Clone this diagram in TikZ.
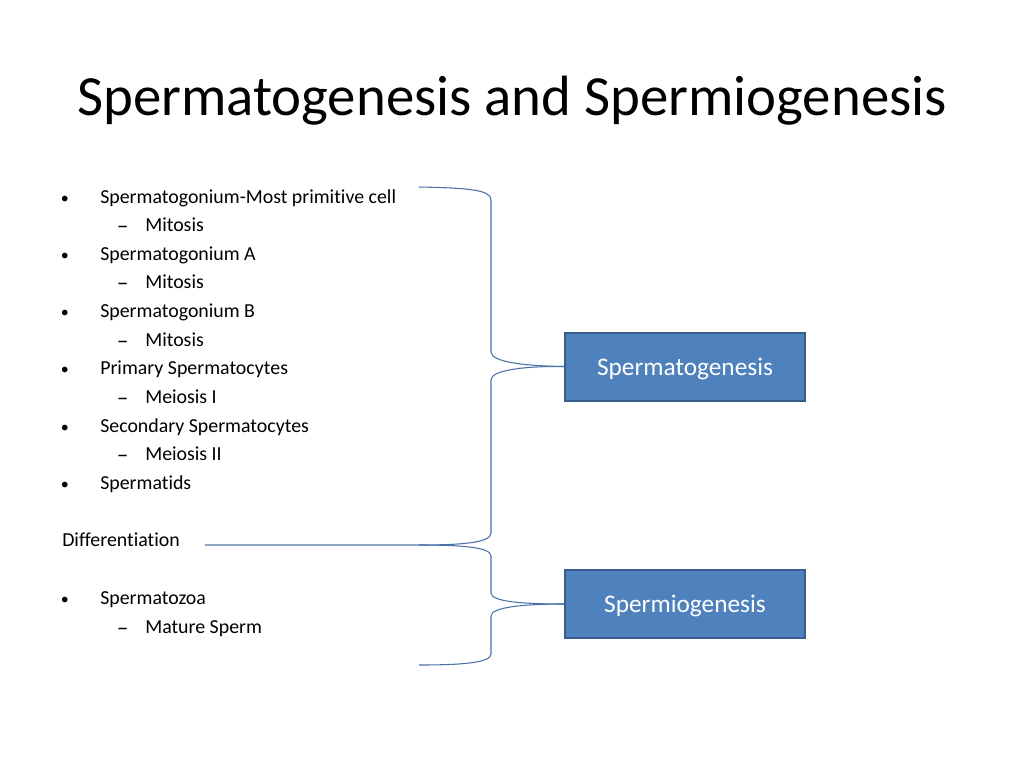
\documentclass[tikz,border=0pt]{standalone}
\usepackage{fontspec}
\setmainfont{Carlito}[RawFeature=-liga]
\begin{document}
\begin{tikzpicture}[x=0.75pt,y=-0.75pt,
  item/.style={anchor=base west,inner sep=0pt,font=\fontsize{14.9}{18}\selectfont},
  bx/.style={draw=boxedge,line width=1.5pt,fill=boxfill,text=white,minimum width=180pt,minimum height=51pt,inner sep=0pt,text height=15pt,text depth=2pt,font=\fontsize{19}{22}\selectfont},
  brace/.style={draw=bracec,line width=0.8pt},
]
\definecolor{boxfill}{HTML}{4F81BD}
\definecolor{boxedge}{HTML}{385D8A}
\definecolor{bracec}{HTML}{4A72A8}
\definecolor{linec}{HTML}{8FA8C8}
\useasboundingbox (0,0) rectangle (1024,768);
\fill[white] (0,0) rectangle (1024,768);
\node[inner sep=0pt,font=\fontsize{42.6}{50}\selectfont] (title) at (512,101) {Spermatogenesis and Spermiogenesis};
% bullets
\foreach \y/\t [count=\i] in {197/Spermatogonium-Most primitive cell,254/Spermatogonium A,311/Spermatogonium B,368/Primary Spermatocytes,426/Secondary Spermatocytes,483/Spermatids,598/Spermatozoa}{
  \node[item] (b\i) at (100,\y+6) {\t};
  \node[item,font=\fontsize{12}{14}\selectfont] (bd\i) at (60.5,\y+6) {•};
}
\foreach \y/\t [count=\i] in {225/Mitosis,282/Mitosis,340/Mitosis,397/Meiosis I,454/Meiosis II,627/Mature Sperm}{
  \node[item] (s\i) at (145,\y+6) {\t};
  \node[item,font=\fontsize{17.5}{20}\selectfont] (sd\i) at (116.5,\y+8) {–};
}
\node[item] (diff) at (62,540+6) {Differentiation};
% boxes
\node[bx] (gen) at (685,366.5) {Spermatogenesis};
\node[bx] (mio) at (685,604) {Spermiogenesis};
% coordinates
\coordinate (t1) at (419,187);
\coordinate (m1) at (gen.west);
\coordinate (e1) at (419,545);
\coordinate (m2) at (mio.west);
\coordinate (e2) at (419,665);
\coordinate (d0) at (205,545);
% differentiation line
\draw[linec,line width=0.8pt] (d0) -- (e1);
% brace 1
\draw[brace] (t1) .. controls (470,188) and (491,190) .. (491,200) -- (491,352)
  .. controls (491,362) and (525,366) .. (m1);
\draw[brace] (m1) .. controls (525,366) and (491,370) .. (491,380) -- (491,533)
  .. controls (491,543) and (460,545) .. (e1);
% brace 2
\draw[brace] (e1) .. controls (460,545) and (491,547) .. (491,556) -- (491,593)
  .. controls (491,602) and (525,604) .. (m2);
\draw[brace] (m2) .. controls (525,604) and (491,607) .. (491,616) -- (491,654)
  .. controls (491,663) and (460,665) .. (e2);
\end{tikzpicture}
\end{document}
